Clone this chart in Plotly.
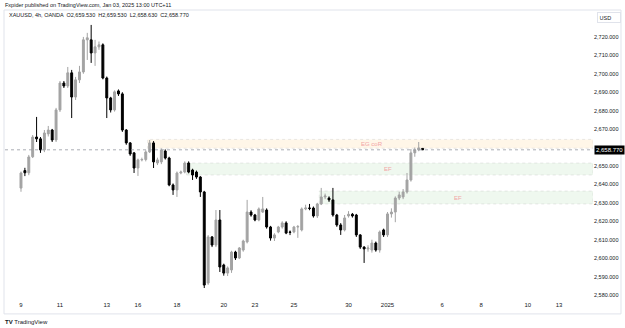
import plotly.graph_objects as go

# 4h candles, XAUUSD, bar index order
opens = [2638.0, 2647.5, 2646.3, 2655.0, 2665.7, 2664.7, 2658.7, 2667.4, 2669.5, 2664.1,
         2680.4, 2695.0, 2693.4, 2700.5, 2687.4, 2696.7, 2701.0, 2718.4, 2718.4, 2711.3,
         2714.6, 2715.7, 2697.7, 2686.9, 2680.4, 2690.7, 2689.1, 2669.5, 2662.5, 2657.1,
         2648.9, 2653.3, 2653.5, 2657.6, 2662.5, 2651.6, 2652.2, 2658.1, 2654.3, 2639.7,
         2637.0, 2646.2, 2646.7, 2651.6, 2647.8, 2646.7, 2644.0, 2635.9, 2586.5, 2611.5,
         2607.1, 2620.7, 2596.3, 2591.9, 2593.6, 2603.3, 2600.1, 2604.4, 2608.8, 2625.0,
         2623.4, 2620.7, 2625.0, 2626.1, 2616.9, 2610.9, 2614.2, 2616.9, 2619.1, 2614.2,
         2614.2, 2616.9, 2615.3, 2626.7, 2627.2, 2627.2, 2622.9, 2629.4, 2633.2, 2632.6,
         2631.6, 2623.4, 2618.0, 2615.3, 2622.9, 2623.8, 2623.4, 2612.6, 2606.0, 2605.0,
         2604.4, 2608.2, 2604.4, 2615.3, 2612.6, 2624.0, 2625.0, 2632.6, 2633.2, 2635.9,
         2642.4, 2657.1, 2658.7, 2659.53]
highs = [2647.0, 2649.0, 2656.0, 2666.8, 2676.6, 2665.7, 2669.5, 2671.7, 2670.1, 2681.5,
         2696.1, 2696.1, 2703.7, 2702.1, 2698.3, 2704.3, 2720.0, 2722.2, 2726.5, 2718.4,
         2717.5, 2716.5, 2698.5, 2687.5, 2691.0, 2691.5, 2690.0, 2670.0, 2663.0, 2657.6,
         2654.0, 2654.5, 2658.5, 2664.1, 2663.5, 2654.5, 2659.5, 2659.0, 2655.0, 2640.5,
         2647.0, 2647.5, 2652.5, 2652.5, 2648.5, 2647.5, 2644.5, 2636.5, 2612.5, 2612.0,
         2626.1, 2626.1, 2597.0, 2595.5, 2604.0, 2604.0, 2606.0, 2610.0, 2631.6, 2626.0,
         2624.0, 2627.5, 2633.2, 2627.0, 2617.5, 2613.5, 2617.5, 2620.0, 2620.0, 2615.0,
         2617.5, 2618.0, 2627.5, 2629.0, 2629.4, 2628.0, 2630.0, 2638.1, 2635.0, 2633.5,
         2638.1, 2624.0, 2619.0, 2623.4, 2625.5, 2624.5, 2624.0, 2613.0, 2606.5, 2607.0,
         2610.0, 2609.0, 2615.0, 2616.0, 2625.0, 2627.0, 2633.5, 2636.0, 2637.5, 2646.2,
         2659.2, 2660.0, 2663.0, 2659.53]
lows = [2636.0, 2644.5, 2645.0, 2654.3, 2663.0, 2657.1, 2657.5, 2666.0, 2663.0, 2663.0,
        2679.3, 2692.3, 2692.3, 2676.0, 2685.8, 2695.0, 2700.0, 2707.5, 2705.9, 2704.3,
        2713.0, 2697.0, 2676.0, 2679.0, 2679.5, 2688.0, 2668.5, 2661.5, 2655.5, 2646.2,
        2644.6, 2652.5, 2652.5, 2657.0, 2648.9, 2650.5, 2651.0, 2653.5, 2639.0, 2634.3,
        2633.2, 2645.5, 2646.0, 2646.0, 2642.4, 2643.0, 2633.2, 2583.8, 2585.5, 2606.0,
        2606.0, 2592.5, 2590.5, 2590.3, 2592.0, 2599.0, 2599.5, 2603.5, 2608.0, 2622.5,
        2620.0, 2620.0, 2624.5, 2616.0, 2609.5, 2609.3, 2613.5, 2616.0, 2613.0, 2612.5,
        2613.5, 2611.0, 2614.5, 2626.0, 2626.0, 2622.0, 2621.8, 2628.8, 2632.0, 2630.5,
        2622.5, 2617.0, 2612.6, 2614.5, 2622.0, 2622.0, 2611.5, 2605.0, 2597.4, 2603.5,
        2603.0, 2603.5, 2603.0, 2611.5, 2611.5, 2622.0, 2619.5, 2631.5, 2632.0, 2635.0,
        2641.5, 2655.0, 2658.0, 2658.63]
closes = [2646.2, 2646.3, 2654.9, 2665.7, 2664.7, 2658.7, 2667.9, 2669.5, 2664.1, 2680.4,
          2695.0, 2693.4, 2700.5, 2687.4, 2696.7, 2701.0, 2718.4, 2719.5, 2711.3, 2714.6,
          2715.7, 2697.7, 2686.9, 2680.4, 2690.2, 2689.1, 2669.5, 2662.5, 2656.5, 2648.9,
          2653.3, 2653.5, 2657.6, 2662.5, 2652.2, 2653.3, 2658.7, 2654.3, 2639.7, 2637.0,
          2646.2, 2646.7, 2651.6, 2646.7, 2645.1, 2644.0, 2635.9, 2585.4, 2611.5, 2607.1,
          2620.7, 2595.2, 2591.9, 2594.7, 2603.3, 2600.1, 2605.5, 2609.3, 2625.0, 2623.4,
          2620.7, 2626.7, 2626.7, 2616.9, 2610.9, 2612.6, 2616.9, 2619.1, 2613.6, 2614.0,
          2616.9, 2617.1, 2626.7, 2627.2, 2627.0, 2622.9, 2629.4, 2633.2, 2633.7, 2631.6,
          2623.4, 2618.0, 2615.3, 2621.8, 2623.8, 2622.9, 2612.6, 2606.0, 2605.0, 2605.5,
          2608.2, 2604.4, 2614.2, 2612.6, 2624.0, 2625.0, 2632.6, 2634.3, 2635.9, 2642.4,
          2657.1, 2658.7, 2659.8, 2658.77]

tick_bars = [0, 10, 22, 30, 40, 52, 60, 70, 84, 94, 108, 118, 130, 138]
tick_text = ["9", "11", "13", "16", "18", "20", "23", "25", "30", "2025", "6", "8", "10", "13"]

# 2,660 is hidden behind the last-price label in the reference
price_ticks = [2580, 2590, 2600, 2610, 2620, 2630, 2640, 2650, 2670, 2680, 2690, 2700, 2710, 2720]

# zones: (start bar, low, high, label, label bar)
zone_names = ["EG coR", "EF", "EF"]
zone_start = [33, 43, 77]
zone_low = [2659.6, 2645.1, 2629.4]
zone_high = [2664.4, 2651.6, 2636.4]
zone_label_bar = [90, 94, 112]

last_price = closes[-1]
x = list(range(len(opens)))

FONT = "Liberation Sans, Arial, sans-serif"
fig = go.Figure()
fig.add_trace(go.Candlestick(
    x=x, open=opens, high=highs, low=lows, close=closes,
    increasing=dict(line=dict(color="#a3a3a3", width=1), fillcolor="#a3a3a3"),
    decreasing=dict(line=dict(color="#000000", width=1), fillcolor="#000000"),
    whiskerwidth=0, showlegend=False, hoverinfo="skip"))

x_min, x_max = -4.1, 146.7
fills = ["rgba(255,152,0,0.09)", "rgba(76,175,80,0.09)", "rgba(76,175,80,0.09)"]
for i in range(len(zone_names)):
    fig.add_shape(type="rect", xref="x", yref="y", x0=zone_start[i] - 0.5, x1=x_max,
                  y0=zone_low[i], y1=zone_high[i], fillcolor=fills[i],
                  line=dict(color="rgba(180,180,180,0.5)", width=0.6, dash="dot"), layer="below")
    fig.add_annotation(x=zone_label_bar[i], y=(zone_low[i] + zone_high[i]) / 2, text=zone_names[i],
                       showarrow=False, font=dict(size=6, color="#f2a5a5", family=FONT))

# last-price line
fig.add_shape(type="line", xref="paper", yref="y", x0=0, x1=1, y0=last_price, y1=last_price,
              line=dict(color="#9598a1", width=0.8, dash="dot"))
fig.add_annotation(xref="paper", yref="y", x=1.002, y=last_price, xanchor="left",
                   text=f"{last_price:,.3f}", showarrow=False, bgcolor="#000000",
                   font=dict(size=6, color="#ffffff", family=FONT), borderpad=1)

# frame
fig.add_shape(type="rect", xref="paper", yref="paper", x0=-0.0017, x1=1.0476, y0=-0.048, y1=1.0,
              line=dict(color="#e0e3eb", width=1))
# header texts
fig.add_annotation(xref="paper", yref="paper", x=-0.0034, y=1.017, xanchor="left", yanchor="middle",
                   text="Fxpider published on TradingView.com, Jan 03, 2025 13:00 UTC+11",
                   showarrow=False, font=dict(size=5.5, color="#131722", family=FONT))
fig.add_annotation(xref="paper", yref="paper", x=0.004, y=0.983, xanchor="left", yanchor="middle",
                   text="XAUUSD, 4h, OANDA  O2,659.530  H2,659.530  L2,658.630  C2,658.770",
                   showarrow=False, font=dict(size=5.5, color="#131722", family=FONT))
fig.add_annotation(xref="paper", yref="paper", x=1.0068, y=0.975, xanchor="left", yanchor="middle",
                   text="USD", showarrow=False, font=dict(size=5.5, color="#131722", family=FONT),
                   bordercolor="#e0e3eb", borderwidth=1, borderpad=1.5, width=19, align="left")
fig.add_annotation(xref="paper", yref="paper", x=-0.0034, y=-0.076, xanchor="left", yanchor="middle",
                   text="<b>TV</b> TradingView", showarrow=False,
                   font=dict(size=6, color="#131722", family=FONT))

fig.update_layout(
    width=625, height=328, margin=dict(l=5, r=32, t=10, b=28),
    paper_bgcolor="#ffffff", plot_bgcolor="#ffffff",
    font=dict(family=FONT, size=6, color="#131722"),
    xaxis=dict(range=[x_min, x_max], tickvals=tick_bars, ticktext=tick_text, showgrid=False,
               zeroline=False, showline=False, ticks="", rangeslider=dict(visible=False),
               tickfont=dict(size=6, color="#131722"), fixedrange=True),
    yaxis=dict(side="right", range=[2577.3, 2734.6], tickvals=price_ticks,
               ticktext=[f"{v:,.3f}" for v in price_ticks], showgrid=False, zeroline=False,
               showline=False, ticks="", tickfont=dict(size=5.5, color="#131722"), fixedrange=True),
)

fig.write_html("out.html")
